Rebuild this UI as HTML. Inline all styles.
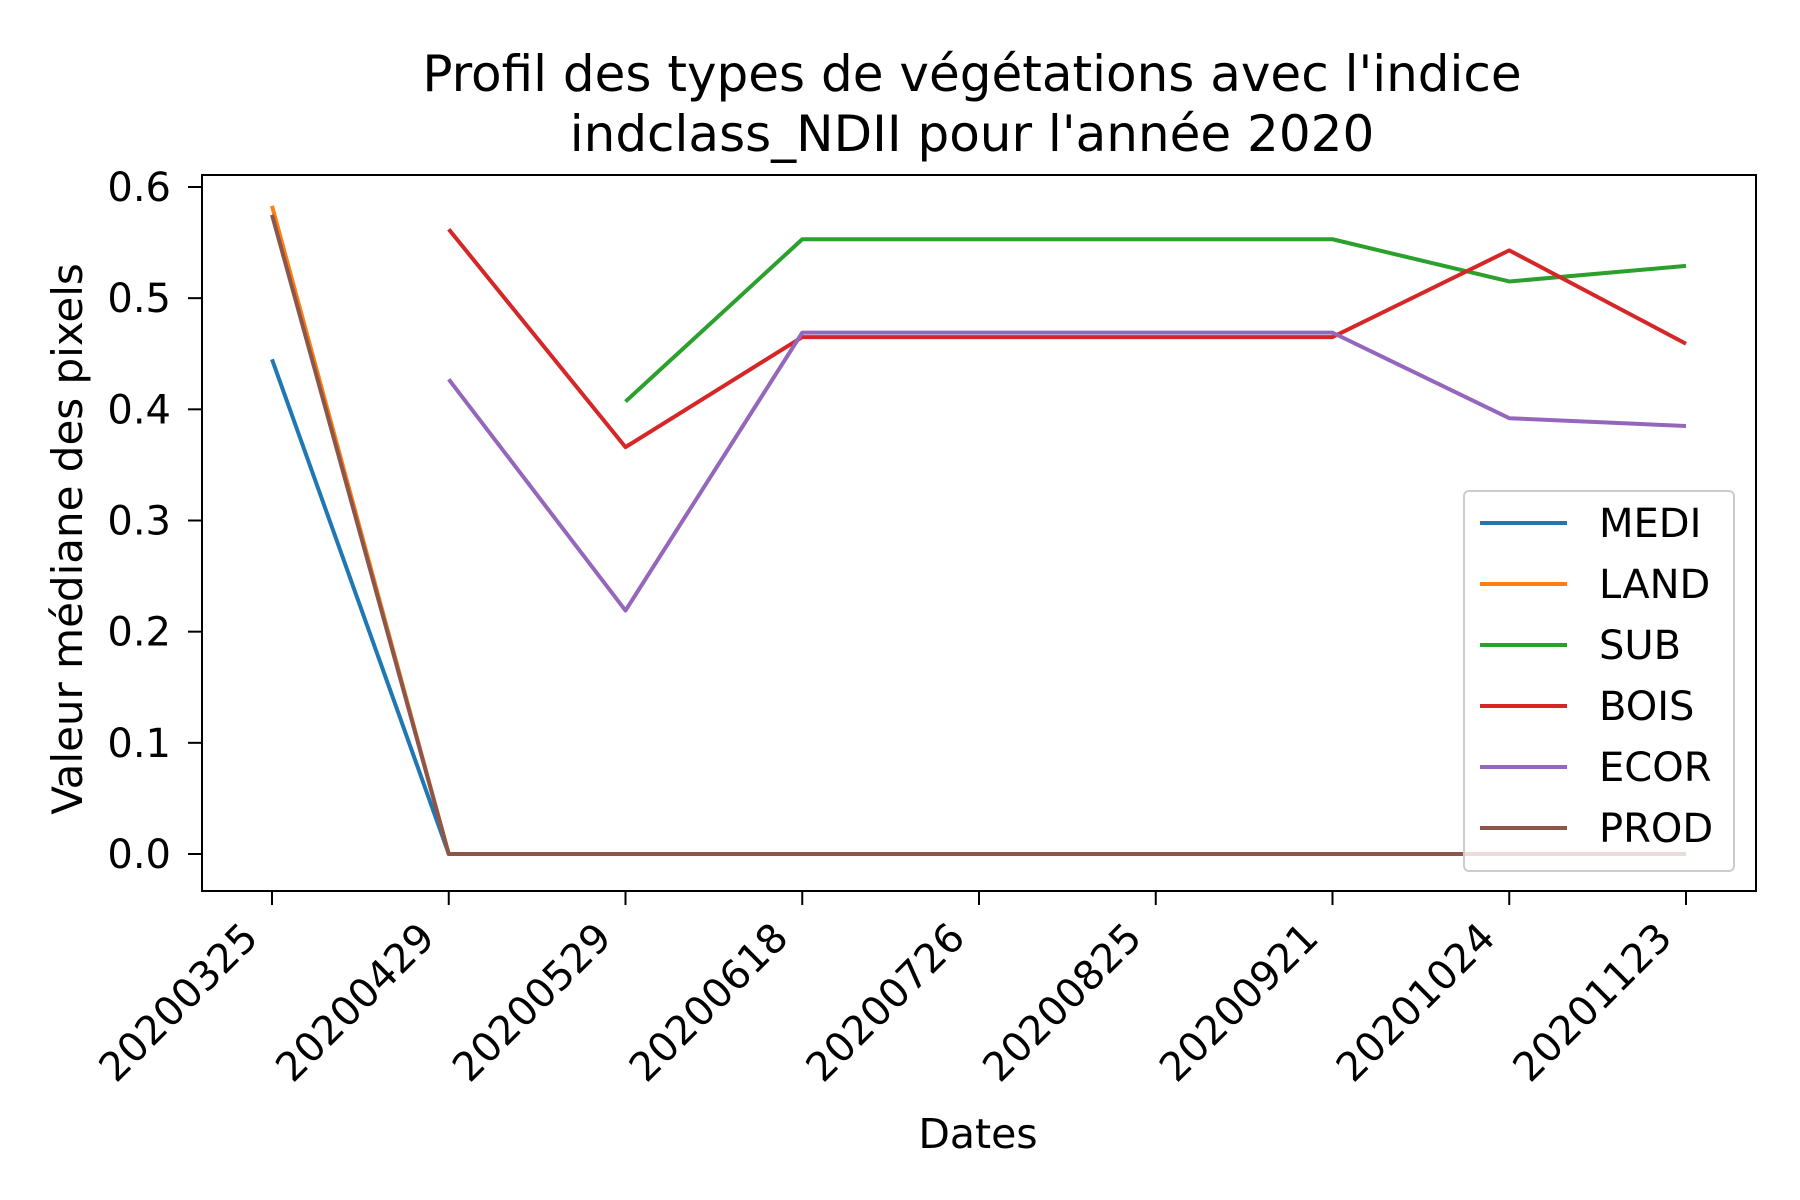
<!DOCTYPE html>
<html><head><meta charset="utf-8"><style>body{margin:0;background:#fff}svg{display:block;font-family:"DejaVu Sans","Liberation Sans",sans-serif}</style></head>
<body>
<svg id="chart" width="1800" height="1200" viewBox="0 0 1800 1200" xmlns="http://www.w3.org/2000/svg">
<rect width="1800" height="1200" fill="#fff"/>
<text x="972" y="91" font-size="50" text-anchor="middle">Profil des types de végétations avec l'indice</text>
<text x="972" y="151" font-size="50" text-anchor="middle">indclass_NDII pour l'année 2020</text>
<g id="plot"></g>
<rect x="202" y="175" width="1554" height="716" fill="none" stroke="#000" stroke-width="2"/>
<text transform="translate(82,539) rotate(-90)" font-size="42" text-anchor="middle">Valeur médiane des pixels</text>
<text x="978" y="1148" font-size="41" text-anchor="middle">Dates</text>
</svg>
<script>
const categories=["20200325","20200429","20200529","20200618","20200726","20200825","20200921","20201024","20201123"];
const yTicks=[0,0.1,0.2,0.3,0.4,0.5,0.6];
const seriesNames=["MEDI","LAND","SUB","BOIS","ECOR","PROD"];
const colors=["#1f77b4","#ff7f0e","#2ca02c","#d62728","#9467bd","#8c564b"];
const medi=[0.445,0,0,0,0,0,0,0,0];
const land=[0.583,0,0,0,0,0,0,0,0];
const sub=[null,null,0.407,0.553,0.553,0.553,0.553,0.515,0.529];
const bois=[null,0.562,0.366,0.465,0.465,0.465,0.465,0.543,0.459];
const ecor=[null,0.427,0.219,0.469,0.469,0.469,0.469,0.392,0.385];
const prod=[0.575,0,0,0,0,0,0,0,0];
const series=[medi,land,sub,bois,ecor,prod];
const NS="http://www.w3.org/2000/svg";
const g=document.getElementById('plot');
const svg=document.getElementById('chart');
function xs(i){return 272+i*(1686-272)/(categories.length-1);}
function ys(v){return 854-v*(854-187)/0.6;}
function mk(t,a,p){const e=document.createElementNS(NS,t);for(const k in a)e.setAttribute(k,a[k]);(p||g).appendChild(e);return e;}
yTicks.forEach(v=>{
 const l=mk('line',{x1:188,x2:202,y1:ys(v),y2:ys(v),stroke:'#000','stroke-width':2},svg);
 
 
 const t=mk('text',{x:171,y:ys(v)+14,'font-size':40,'text-anchor':'end'},svg);
 t.textContent=v.toFixed(1);
 
 
});
categories.forEach((c,i)=>{
 const x=xs(i);
 const l=mk('line',{x1:x,x2:x,y1:891,y2:905,stroke:'#000','stroke-width':2},svg);
 
 
 const t=mk('text',{x:0,y:0,'font-size':40,'text-anchor':'end',transform:`translate(${x-12},${940}) rotate(-45)`},svg);
 t.textContent=c;
 
 
});
series.forEach((s,k)=>{
 let d='',pen=false;
 s.forEach((v,i)=>{if(v===null){pen=false;return;}d+=(pen?'L':'M')+xs(i)+','+ys(v);pen=true;});
 const p=mk('path',{d:d,fill:'none',stroke:colors[k],'stroke-width':4,'stroke-linejoin':'round'});
 
 
});
const lg=mk('g',{},svg);


mk('rect',{x:1464,y:491,width:270,height:380,rx:5,fill:'#fff','fill-opacity':0.8,stroke:'#ccc','stroke-width':2},lg);
seriesNames.forEach((n,k)=>{
 const y=523+k*61;
 const l=mk('line',{x1:1480,x2:1567,y1:y,y2:y,stroke:colors[k],'stroke-width':4},lg);
 
 
 const t=mk('text',{x:1599,y:y+14,'font-size':40},lg);
 t.textContent=n;
 
 
});
</script>
</body></html>
